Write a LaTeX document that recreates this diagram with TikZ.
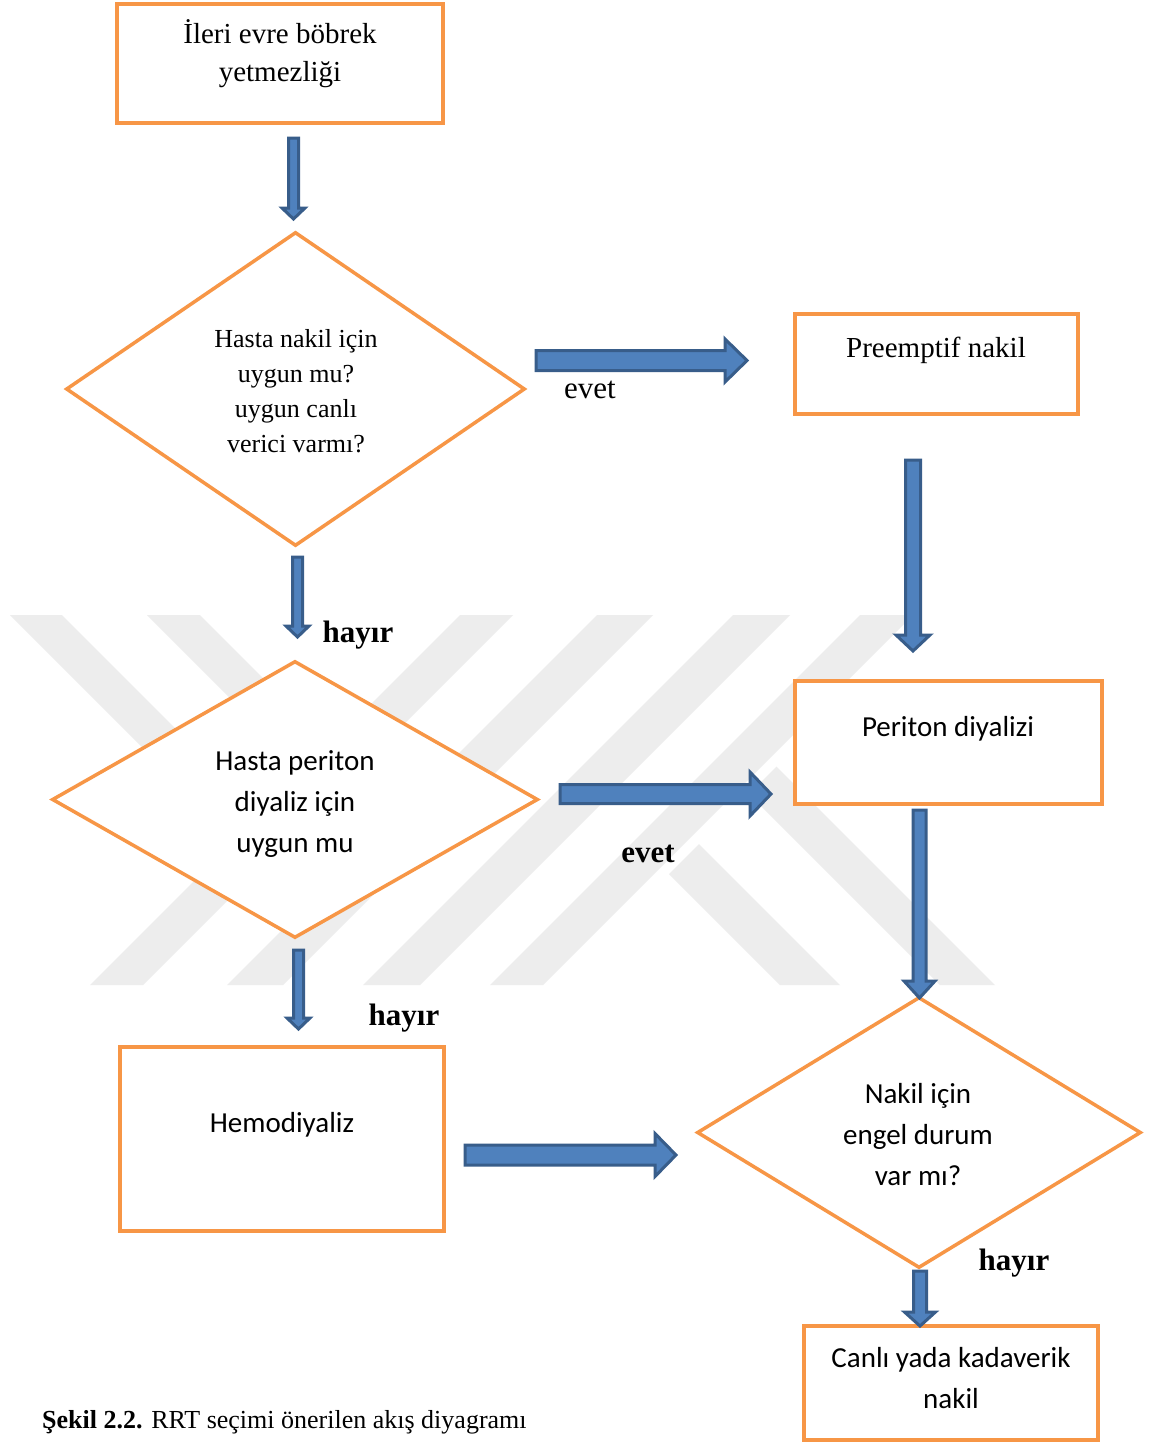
\documentclass[tikz,border=0pt]{standalone}
\usepackage{fontspec}
\setmainfont{Liberation Serif}
\newfontfamily\calibri{Carlito}
\usetikzlibrary{shapes.geometric,calc}
\definecolor{orng}{HTML}{F79646}
\definecolor{afill}{HTML}{4F81BD}
\definecolor{aedge}{HTML}{385D8A}
\definecolor{wm}{RGB}{237,237,237}
\begin{document}
\begin{tikzpicture}[x=1pt,y=-1pt,
  box/.style={draw=orng, line width=3.5pt, fill=white, rectangle, inner sep=0pt},
  dia/.style={draw=orng, line width=3.5pt, fill=white, diamond, inner sep=0pt},
  sertxt/.style={font=\fontsize{29}{38}\selectfont, align=center, inner sep=0pt},
  sertxtsm/.style={font=\fontsize{26}{35}\selectfont, align=center, inner sep=0pt},
  sanstxt/.style={font=\calibri\fontsize{29}{41}\selectfont, align=center, inner sep=0pt},
  lbl/.style={font=\fontsize{31}{36}\selectfont, inner sep=0pt},
  lblb/.style={font=\bfseries\fontsize{31}{36}\selectfont, inner sep=0pt},
  wmark/.style={fill=wm, draw=none},
  barrow/.style n args={3}{draw=aedge, fill=afill, line width=3pt, line join=miter,
    to path={let \p1=(\tikztostart), \p2=(\tikztotarget),
      \n1={veclen(\x2-\x1,\y2-\y1)}, \n2={(\x2-\x1)/\n1}, \n3={(\y2-\y1)/\n1} in
      ({\x1-\n3*#1},{\y1+\n2*#1})
      -- ({\x2-\n2*#3-\n3*#1},{\y2-\n3*#3+\n2*#1})
      -- ({\x2-\n2*#3-\n3*#2},{\y2-\n3*#3+\n2*#2})
      -- ({\x2},{\y2})
      -- ({\x2-\n2*#3+\n3*#2},{\y2-\n3*#3-\n2*#2})
      -- ({\x2-\n2*#3+\n3*#1},{\y2-\n3*#3-\n2*#1})
      -- ({\x1+\n3*#1},{\y1-\n2*#1}) -- cycle}}
]
\useasboundingbox[fill=white] (0,0) rectangle (1150,1444);

% watermark
\fill[wmark] (10,615) -- (62,615) -- (253.5,806.5) -- (227.5,832.5) -- cycle;
\fill[wmark] (147,615) -- (200,615) -- (322.5,737.5) -- (296,764) -- cycle;
\fill[wmark] (460,615) -- (513,615) -- (143,985) -- (90,985) -- cycle;
\fill[wmark] (597,615) -- (653,615) -- (283,985) -- (227,985) -- cycle;
\fill[wmark] (733,615) -- (790,615) -- (420,985) -- (363,985) -- cycle;
\fill[wmark] (860,615) -- (913,615) -- (543,985) -- (490,985) -- cycle;
\fill[wmark] (669,874) -- (699,844) -- (840,985) -- (780,985) -- cycle;
\fill[wmark] (749,794) -- (776.5,766.5) -- (995,985) -- (940,985) -- cycle;

% shapes
\node[box, minimum width=326pt, minimum height=119pt] (b1) at (280,63.5) {};
\node[dia, minimum width=459pt, minimum height=314pt] (d1) at (295.5,389) {};
\node[box, minimum width=283pt, minimum height=100pt] (bp) at (936.5,364) {};
\node[dia, minimum width=486pt, minimum height=277pt] (d2) at (295,799.5) {};
\node[box, minimum width=307pt, minimum height=123pt] (bq) at (948.5,742.5) {};
\node[box, minimum width=324pt, minimum height=184pt] (bh) at (282,1139) {};
\node[dia, minimum width=444pt, minimum height=271pt] (d3) at (919,1132.5) {};
\node[box, minimum width=294pt, minimum height=114pt] (bc) at (951,1383) {};

% texts
\node[sertxt] (t1) at (280,54) {İleri evre böbrek\\yetmezliği};
\node[sertxtsm] (td1) at (296,391) {Hasta nakil için\\uygun mu?\\uygun canlı\\verici varmı?};
\node[sertxt] (tp) at (936,350) {Preemptif nakil};
\node[sanstxt] (tq) at (948,729) {Periton diyalizi};
\node[sanstxt] (td2) at (295,804) {Hasta periton\\diyaliz için\\uygun mu};
\node[sanstxt] (th) at (282,1125) {Hemodiyaliz};
\node[sanstxt] (td3) at (918,1135) {Nakil için\\engel durum\\var mı?};
\node[sanstxt] (tc) at (951,1378) {Canlı yada kadaverik\\nakil};

% labels
\node[lbl] (levet1) at (590,390) {evet};
\node[lblb] (lhayir1) at (358,635) {hayır};
\node[lblb] (levet2) at (648,854) {evet};
\node[lblb] (lhayir2) at (404,1018) {hayır};
\node[lblb] (lhayir3) at (1014,1263) {hayır};

\node[anchor=west, inner sep=0pt, font=\fontsize{26}{30}\selectfont] (cap) at (42,1422)
  {\textbf{Şekil 2.2.} RRT seçimi önerilen akış diyagramı};

% arrow end points
\coordinate (a1s) at (293.5,138);  \coordinate (a1e) at (293.5,219);
\coordinate (a2s) at (536,360.5);  \coordinate (a2e) at (747,360.5);
\coordinate (a3s) at (913,460);    \coordinate (a3e) at (913,651);
\coordinate (a4s) at (297.5,557);  \coordinate (a4e) at (297.5,637);
\coordinate (a5s) at (560,794);    \coordinate (a5e) at (771,794);
\coordinate (a6s) at (919.5,810);  \coordinate (a6e) at (919.5,998);
\coordinate (a7s) at (298.5,950);  \coordinate (a7e) at (298.5,1029);
\coordinate (a8s) at (465,1155);   \coordinate (a8e) at (676,1155);
\coordinate (a9s) at (920,1271);   \coordinate (a9e) at (920,1326);

% block arrows
\draw[barrow={5pt}{11.5pt}{11pt}] (a1s) to (a1e);
\draw[barrow={10pt}{21.5pt}{22pt}] (a2s) to (a2e);
\draw[barrow={7.5pt}{17pt}{16pt}] (a3s) to (a3e);
\draw[barrow={5pt}{11.5pt}{11pt}] (a4s) to (a4e);
\draw[barrow={9.5pt}{22pt}{21pt}] (a5s) to (a5e);
\draw[barrow={6.5pt}{15.5pt}{17pt}] (a6s) to (a6e);
\draw[barrow={5pt}{11.5pt}{11pt}] (a7s) to (a7e);
\draw[barrow={10pt}{21.5pt}{21pt}] (a8s) to (a8e);
\draw[barrow={6.5pt}{15.5pt}{14pt}] (a9s) to (a9e);
\end{tikzpicture}
\end{document}
